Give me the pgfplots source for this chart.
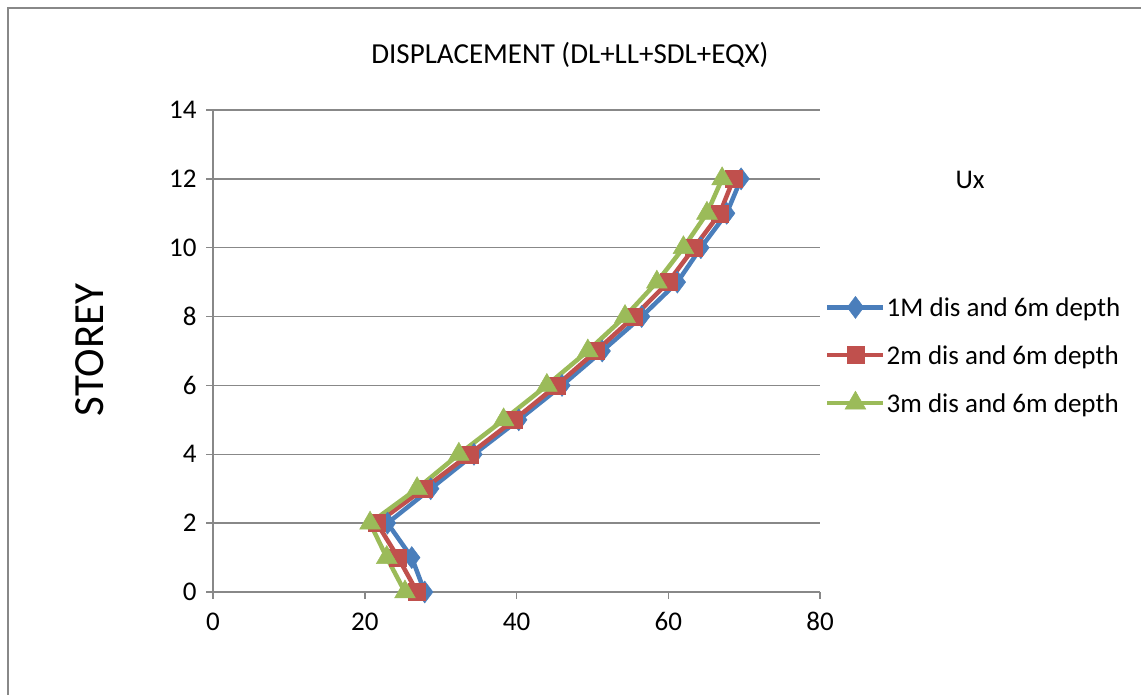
\documentclass[border=0pt]{standalone}
\usepackage{pgfplots}
\pgfplotsset{compat=1.18}
\usepackage{fontspec}
\setmainfont{Carlito}
\definecolor{sblue}{HTML}{4A7EBB}
\definecolor{sred}{HTML}{C0504D}
\definecolor{sgreen}{HTML}{9BBB59}
\definecolor{gridgray}{HTML}{888888}
\begin{document}
\begin{tikzpicture}[x=1pt,y=1pt]
\useasboundingbox (0,0) rectangle (1141,695);
\draw[gridgray,line width=1.5pt] (8,0) -- (8,687) -- (1141,687);
\begin{axis}[
  at={(213pt,103pt)}, anchor=south west,
  scale only axis, width=607pt, height=482pt,
  xmin=0, xmax=80, ymin=0, ymax=14,
  xtick={0,20,...,80}, ytick={0,2,...,14},
  axis x line=bottom, axis y line=left,
  axis line style={-, gridgray, line width=1.5pt},
  ymajorgrids, major grid style={gridgray, line width=1.5pt},
  tick align=outside, major tick length=7pt,
  tick style={gridgray, line width=1.5pt},
  /pgf/number format/assume math mode=true,
  tick label style={font=\fontsize{27}{32}\selectfont},
  yticklabel style={xshift=-6pt},
  xticklabel style={yshift=-10pt},
  clip=false,
  legend style={at={(1.0,0.4917)}, anchor=west, xshift=5pt, draw=none, fill=none,
    font=\fontsize{27}{32}\selectfont, inner sep=0pt, row sep=26pt,
    nodes={inner sep=1pt, text depth=0pt}},
  legend cell align=left,
  legend image code/.code={
    \draw[#1, mark repeat=2, mark phase=2] plot coordinates {(0pt,0pt) (28pt,0pt) (56pt,0pt)};
  },
]
\addplot[sblue, line width=4.5pt, mark=diamond*, mark size=11pt, mark options={solid,line width=0.5pt}] coordinates {
(27.9,0) (26.2,1) (23.0,2) (28.7,3) (34.4,4) (40.3,5) (46.0,6) (51.3,7) (56.5,8) (61.2,9) (64.3,10) (67.7,11) (69.6,12)};
\addlegendentry{1M dis and 6m depth}
\addplot[sred, line width=4.5pt, mark=square*, mark size=8.5pt, mark options={solid,line width=0.5pt}] coordinates {
(26.9,0) (24.4,1) (21.6,2) (27.8,3) (33.8,4) (39.7,5) (45.3,6) (50.5,7) (55.5,8) (60.0,9) (63.4,10) (66.8,11) (68.6,12)};
\addlegendentry{2m dis and 6m depth}
\addplot[sgreen, line width=4.5pt, mark=triangle*, mark size=12pt, mark options={solid,line width=0.5pt}] coordinates {
(25.3,0) (22.9,1) (20.7,2) (26.9,3) (32.4,4) (38.3,5) (44.0,6) (49.4,7) (54.3,8) (58.5,9) (62.0,10) (65.1,11) (67.1,12)};
\addlegendentry{3m dis and 6m depth}
\end{axis}
\node[font=\fontsize{29}{34}\selectfont] at (570,640) {DISPLACEMENT (DL+LL+SDL+EQX)};
\node[font=\fontsize{27}{32}\selectfont] at (970,515) {Ux};
\node[font=\fontsize{43}{50}\selectfont, rotate=90] at (90,345) {STOREY};
\end{tikzpicture}
\end{document}
